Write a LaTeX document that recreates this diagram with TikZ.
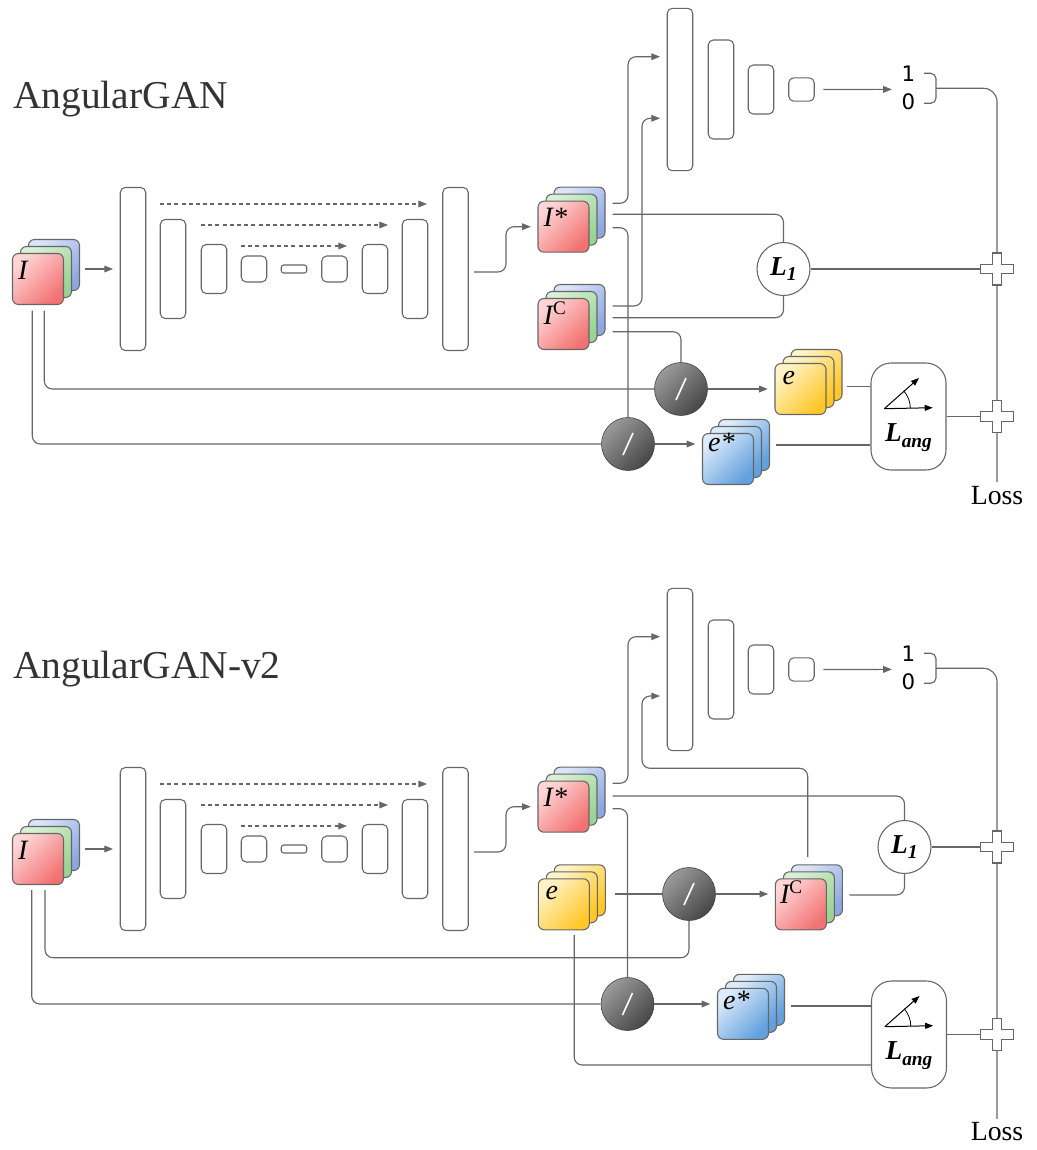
\documentclass[tikz,border=0pt]{standalone}
\usepackage{fontspec}
\setmainfont{Liberation Serif}
\newfontfamily\digitfont{DejaVu Sans}
\usetikzlibrary{calc,arrows.meta}
\definecolor{ln}{HTML}{666666}
\definecolor{titlec}{HTML}{333333}
\definecolor{redA}{HTML}{FFD6D6}\definecolor{redB}{HTML}{F27272}
\definecolor{greA}{HTML}{D8F0D6}\definecolor{greB}{HTML}{9AD494}
\definecolor{bluA}{HTML}{DCE4F8}\definecolor{bluB}{HTML}{8EA7E3}
\definecolor{yelA}{HTML}{FFF3C8}\definecolor{yelB}{HTML}{FFC727}
\definecolor{ebA}{HTML}{DDEBFA}\definecolor{ebB}{HTML}{62A0DE}
\definecolor{divA}{HTML}{9A9A9A}\definecolor{divB}{HTML}{474747}
\newcommand\mkstack[5]{%
  \node[#5] (#1-b) at ($#2+(16,-14)$) {};
  \node[#4] (#1-m) at ($#2+(8,-7)$) {};
  \node[#3] (#1) at #2 {};
}
\newcommand\crossat[1]{%
  \begin{scope}[shift={(#1)}]
  \draw[crossst] (-4.8,-16) -- (4.8,-16) -- (4.8,-4.8) -- (16.5,-4.8) -- (16.5,4.8) -- (4.8,4.8) -- (4.8,16) -- (-4.8,16) -- (-4.8,4.8) -- (-16.5,4.8) -- (-16.5,-4.8) -- (-4.8,-4.8) -- cycle;
  \end{scope}}
\newcommand\bracketat[1]{%
  \begin{scope}[shift={(#1)}]
  \draw[conn,rounded corners=4pt] (-12,-15) -| (0,0) |- (-12,15);
  \end{scope}}
\newcommand\angsym[1]{%
  \draw[black,line width=0.75pt,-{Triangle[length=6pt,width=4.5pt]}] ($(#1)+(-24.2,-7.8)$) -- ($(#1)+(10.5,-38.5)$);
  \draw[black,line width=0.75pt,-{Triangle[length=6pt,width=4.5pt]}] ($(#1)+(-24.2,-7.8)$) -- ($(#1)+(24.2,-8.8)$);
  \draw[black,line width=0.6pt] ($(#1)+(1.8,-8.3)$) arc[start angle=0,end angle=-42,radius=26];
}
\begin{document}
\begin{tikzpicture}[x=0.75pt,y=-0.75pt,
  conn/.style={draw=ln,line width=0.85pt,rounded corners=6pt},
  arr/.style={conn,-{Triangle[length=6.5pt,width=5pt]},shorten >=5pt},
  dsh/.style={draw=ln,line width=0.8pt,dash pattern=on 3pt off 2.4pt,-{Triangle[length=6.5pt,width=5pt]}},
  enc/.style={draw=ln,line width=0.8pt,rounded corners=3.75pt,fill=white,minimum width=19.1pt,inner sep=0pt},
  sq/.style={draw=ln,line width=0.8pt,rounded corners=4.5pt,minimum size=38.25pt,inner sep=0pt},
  redsq/.style={sq,top color=redA,bottom color=redB,shading angle=45},
  gresq/.style={sq,top color=greA,bottom color=greB,shading angle=45},
  blusq/.style={sq,top color=bluA,bottom color=bluB,shading angle=45},
  yelsq/.style={sq,top color=yelA,bottom color=yelB,shading angle=45},
  ebsq/.style={sq,top color=ebA,bottom color=ebB,shading angle=45},
  divc/.style={circle,minimum size=39.75pt,inner sep=0pt,draw=divB!80!black,line width=0.4pt,top color=divA,bottom color=divB,shading angle=45,
    path picture={\draw[white,line width=1.2pt] ($(path picture bounding box.center)+(-5,11)$) -- ($(path picture bounding box.center)+(5,-11)$);}},
  lossc/.style={circle,draw=ln,fill=white,minimum size=39.75pt,inner sep=0pt,line width=0.8pt,font=\fontsize{20.5}{24}\selectfont\bfseries\itshape},
  angbox/.style={draw=ln,line width=0.8pt,rounded corners=15pt,fill=white,minimum width=56.25pt,minimum height=80.25pt,inner sep=0pt},
  pluspt/.style={inner sep=0pt,minimum width=24.75pt,minimum height=24pt},
  crossst/.style={draw=ln,fill=white,line width=0.8pt},
  titlet/.style={font=\fontsize{29.6}{34}\selectfont,text=titlec,inner sep=0pt,anchor=base west},
  losst/.style={font=\fontsize{20.8}{24}\selectfont,inner sep=2.5pt,anchor=base},
  dig/.style={font=\digitfont\fontsize{16}{18}\selectfont,inner sep=0pt},
  lbl/.style={font=\fontsize{21}{24}\selectfont\itshape,inner sep=0pt,anchor=base west},
  angt/.style={font=\fontsize{20.5}{24}\selectfont\bfseries\itshape,inner sep=0pt,anchor=base}
]
\useasboundingbox (0,0) rectangle (1036,1150);

%% ================= TOP: AngularGAN =================
\node[titlet] (title1) at (13,108) {AngularGAN};

\mkstack{I1}{(38,279)}{redsq}{gresq}{blusq}
\node[lbl] (I1-t) at ($(I1.north west)+(6,26.5)$) {I};

\foreach \n/\x/\h/\r in {1/133/122.25pt/3.75pt,2/173/74.25pt/3.75pt,3/214/36.75pt/3.75pt,4/254/19.5pt/3.75pt,5/294/6pt/1.8pt,6/334.5/19.5pt/3.75pt,7/375/36.75pt/3.75pt,8/415/74.25pt/3.75pt,9/455.5/122.25pt/3.75pt}
  \node[enc,minimum height=\h,rounded corners=\r] (A\n) at (\x,269) {};
\coordinate (k1a) at (160,204); \coordinate (k1b) at (427,204);
\coordinate (k2a) at (201,225); \coordinate (k2b) at (388,225);
\coordinate (k3a) at (241,246); \coordinate (k3b) at (347,246);
\draw[dsh] (k1a) -- (k1b);
\draw[dsh] (k2a) -- (k2b);
\draw[dsh] (k3a) -- (k3b);

\foreach \n/\x/\h in {1/680/121.8pt,2/721/74.25pt,3/761/36.75pt,4/801.5/17.5pt}
  \node[enc,minimum height=\h] (D\n) at (\x,89.5) {};
\node[dig] (one1) at (908.5,74) {1};
\node[dig] (zero1) at (908.5,101.7) {0};
\coordinate (q1) at (898.5,89.4);
\coordinate (br1) at (936,88.3);

\mkstack{S1}{(563.5,226.7)}{redsq}{gresq}{blusq}
\node[lbl] (S1-t) at ($(S1.north west)+(6,25.5)$) {I*};
\mkstack{S2}{(563.5,324)}{redsq}{gresq}{blusq}
\node[lbl] (S2-t) at ($(S2.north west)+(6,27)$) {I\raisebox{7.5pt}{\upshape\fontsize{14.4}{15}\selectfont C}};

\node[lossc] (L1) at (783.5,269) {L\raisebox{-4.3pt}{\fontsize{14.8}{15}\selectfont 1}};
\node[divc] (V1) at (681,389) {};
\node[divc] (V2) at (628,444) {};

\mkstack{S3}{(800.5,389)}{yelsq}{yelsq}{yelsq}
\node[lbl] (S3-t) at ($(S3.north west)+(8,21.5)$) {e};
\mkstack{S4}{(728,459)}{ebsq}{ebsq}{ebsq}
\node[lbl] (S4-t) at ($(S4.north west)+(6,19)$) {e*};

\node[angbox] (La) at (908.5,416.5) {};
\angsym{La}
\node[angt] (La-t) at ($(La)+(0,25.2)$) {L\raisebox{-4pt}{\fontsize{14.5}{15}\selectfont ang}};

\node[pluspt] (p1) at (997,269) {};
\node[pluspt] (p2) at (997,416.5) {};
\node[losst] (loss1) at (997,504) {Loss};

% connectors top
\coordinate (I1o) at (85,269);
\draw[arr] (I1o) -- (A1);
\coordinate (A9o) at (474,272);
\draw[arr] (A9o) -- ++(32,0) |- (S1.west);
\coordinate (S1o1) at (612.5,203.3);
\coordinate (S1o2) at (612.5,214.3);
\coordinate (S1o3) at (612.5,227.7);
\draw[arr] (S1o1) -- ++(15.5,0) |- ($(D1.west)+(0,-32.8)$);
\draw[conn] (S1o2) -| (L1.north);
\draw[conn] (S1o3) -| (V2.north);
\coordinate (S2o1) at (612.5,306);
\coordinate (S2o2) at (612.5,317.7);
\coordinate (S2o3) at (612.5,331.7);
\draw[arr] (S2o1) -- ++(29.5,0) |- ($(D1.west)+(0,28.8)$);
\draw[conn] (S2o2) -| (L1.south);
\draw[conn] (S2o3) -| (V1.north);
\coordinate (I1b1) at (44.3,310.7);
\coordinate (I1b2) at (32.3,310.7);
\draw[conn] (I1b1) |- (V1.west);
\draw[conn] (I1b2) |- (V2.west);
\draw[arr] (V1.east) -- (V1.east -| S3.west);
\draw[arr] (V2.east) -- (V2.east -| S4.west);
\coordinate (S3o) at (847,386.7);
\coordinate (S4o) at (776,445);
\draw[conn] (S3o) -- (S3o -| La.west);
\draw[conn] (S4o) -- (S4o -| La.west);
\draw[conn] (La.east) -- (p2.west);
\draw[conn] (L1.east) -- (p1.west);
\draw[arr,shorten <=6.4pt] (D4.east) -- (q1);
\bracketat{br1}
\draw[conn,rounded corners=10pt] (br1) -| (loss1.north);
\crossat{p1}
\crossat{p2}

%% ================= BOTTOM: AngularGAN-v2 =================
\node[titlet] (title2) at (13,678) {AngularGAN-v2};

\mkstack{I2}{(38,859)}{redsq}{gresq}{blusq}
\node[lbl] (I2-t) at ($(I2.north west)+(6,26.5)$) {I};

\foreach \n/\x/\h/\r in {1/133/122.25pt/3.75pt,2/173/74.25pt/3.75pt,3/214/36.75pt/3.75pt,4/254/19.5pt/3.75pt,5/294/6pt/1.8pt,6/334.5/19.5pt/3.75pt,7/375/36.75pt/3.75pt,8/415/74.25pt/3.75pt,9/455.5/122.25pt/3.75pt}
  \node[enc,minimum height=\h,rounded corners=\r] (B\n) at (\x,849) {};
\coordinate (m1a) at (160,784); \coordinate (m1b) at (427,784);
\coordinate (m2a) at (201,805); \coordinate (m2b) at (388,805);
\coordinate (m3a) at (241,826); \coordinate (m3b) at (347,826);
\draw[dsh] (m1a) -- (m1b);
\draw[dsh] (m2a) -- (m2b);
\draw[dsh] (m3a) -- (m3b);

\foreach \n/\x/\h in {1/680/121.8pt,2/721/74.25pt,3/761/36.75pt,4/801.5/17.5pt}
  \node[enc,minimum height=\h] (C\n) at (\x,669.5) {};
\node[dig] (one2) at (908.5,654) {1};
\node[dig] (zero2) at (908.5,681.7) {0};
\coordinate (q2) at (898.5,669.4);
\coordinate (br2) at (936,668.3);

\mkstack{S5}{(563.5,806.7)}{redsq}{gresq}{blusq}
\node[lbl] (S5-t) at ($(S5.north west)+(6,25.5)$) {I*};
\mkstack{S6}{(563.8,904.3)}{yelsq}{yelsq}{yelsq}
\node[lbl] (S6-t) at ($(S6.north west)+(7.5,21.5)$) {e};
\mkstack{S7}{(800.9,904.3)}{redsq}{gresq}{blusq}
\node[lbl] (S7-t) at ($(S7.north west)+(5,25.5)$) {I\raisebox{7.5pt}{\upshape\fontsize{14.4}{15}\selectfont C}};
\mkstack{S8}{(743,1013.8)}{ebsq}{ebsq}{ebsq}
\node[lbl] (S8-t) at ($(S8.north west)+(6,22)$) {e*};

\node[lossc] (L1b) at (904.5,847) {L\raisebox{-4.3pt}{\fontsize{14.8}{15}\selectfont 1}};
\node[divc] (V3) at (689,894) {};
\node[divc] (V4) at (627.5,1004) {};

\node[angbox] (Lab) at (909,1034.5) {};
\angsym{Lab}
\node[angt] (Lab-t) at ($(Lab)+(0,25.2)$) {L\raisebox{-4pt}{\fontsize{14.5}{15}\selectfont ang}};

\node[pluspt] (p3) at (997,847) {};
\node[pluspt] (p4) at (997,1034.5) {};
\node[losst] (loss2) at (997,1140.6) {Loss};

% connectors bottom
\coordinate (I2o) at (85,849);
\draw[arr] (I2o) -- (B1);
\coordinate (B9o) at (474,852);
\draw[arr] (B9o) -- ++(32,0) |- (S5.west);
\coordinate (S5o1) at (612.5,783.3);
\coordinate (S5o2) at (612.5,796);
\coordinate (S5o3) at (612.5,808.7);
\draw[arr] (S5o1) -- ++(15.5,0) |- ($(C1.west)+(0,-32.8)$);
\draw[conn] (S5o2) -| (L1b.north);
\draw[conn] (S5o3) -| (V4.north);
\coordinate (S7t) at (807.7,857);
\draw[arr] (S7t) |- ++(-165.7,-88.7) |- ($(C1.west)+(0,26.5)$);
\coordinate (S7o) at (849.4,895);
\draw[conn] (S7o) -| (L1b.south);
\coordinate (S6o) at (614.5,894);
\draw[conn] (S6o) -- (V3.west);
\draw[arr] (V3.east) -- (V3.east -| S7.west);
\coordinate (I2b1) at (45,890);
\coordinate (I2b2) at (31.7,890);
\draw[conn] (I2b1) -- ++(0,67.7) -| (V3.south);
\draw[conn] (I2b2) |- (V4.west);
\draw[arr] (V4.east) -- (V4.east -| S8.west);
\coordinate (S8o) at (791.3,1006);
\draw[conn] (S8o) -- (S8o -| Lab.west);
\coordinate (S6d) at (574.2,935);
\draw[conn] (S6d) |- ($(Lab.west)+(0,30.5)$);
\draw[conn] (Lab.east) -- (p4.west);
\draw[conn] (L1b.east) -- (p3.west);
\draw[arr,shorten <=6.4pt] (C4.east) -- (q2);
\bracketat{br2}
\draw[conn,rounded corners=10pt] (br2) -| (loss2.north);
\crossat{p3}
\crossat{p4}
\end{tikzpicture}
\end{document}
